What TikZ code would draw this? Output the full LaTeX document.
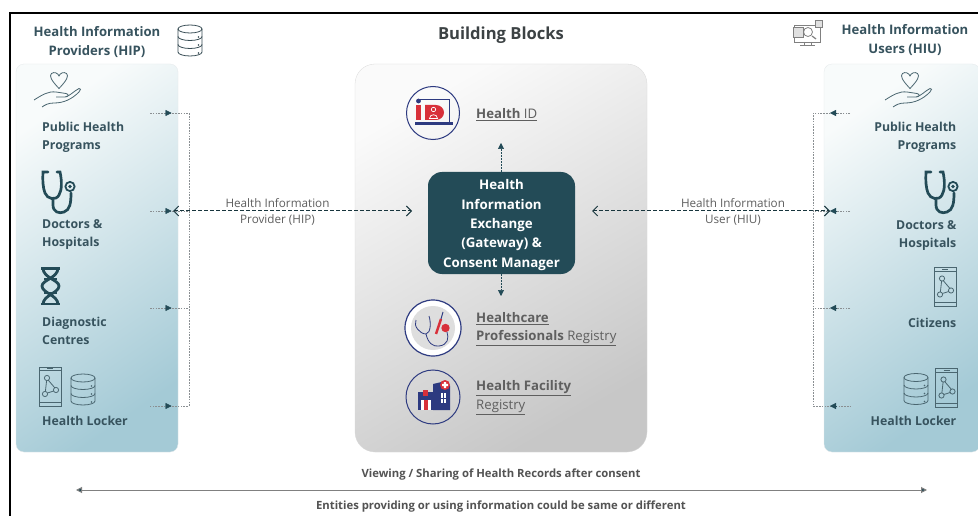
\documentclass[tikz,border=0pt]{standalone}
\usepackage{fontspec}
\setmainfont{Open Sans}
\usetikzlibrary{arrows.meta,calc}
\definecolor{teal}{HTML}{234B57}
\definecolor{lbl}{HTML}{37535E}
\definecolor{gtxt}{HTML}{404040}
\definecolor{ltxt}{HTML}{5F5F5F}
\definecolor{navy}{HTML}{2D3A80}
\definecolor{redi}{HTML}{D8303A}
\definecolor{iconline}{HTML}{4A6670}
\definecolor{dotg}{HTML}{8A8F92}
\definecolor{panelA}{HTML}{F8FBFB}
\definecolor{panelB}{HTML}{A4CAD6}
\tikzset{
 x=1pt,y=-1pt,
 entity/.style={font=\fontsize{12.3}{18}\selectfont\bfseries,text=lbl,inner sep=0pt},
 headtxt/.style={font=\fontsize{13.1}{19}\selectfont\bfseries,text=lbl,align=center,inner sep=0pt},
 blocktxt/.style={font=\fontsize{13.2}{18.5}\selectfont,text=ltxt,align=left,anchor=west,inner sep=0pt},
 linktxt/.style={font=\fontsize{11.7}{16}\selectfont,text=ltxt,align=center,inner sep=0pt},
 foot/.style={font=\fontsize{11.3}{13}\selectfont\bfseries,text=gtxt!90!white,inner sep=0pt},
 panel/.style={inner sep=0pt,rounded corners=8pt,shade,shading=axis,top color=panelA,bottom color=panelB,shading angle=35,draw=teal!12!white,line width=.3pt,minimum height=388pt},
 feeder/.style={draw=dotg,line width=.6pt,dash pattern=on 1.6pt off 1.2pt},
 feedtip/.style={-{Triangle[length=6pt,width=6pt]},teal,line width=.4pt},
 trunk/.style={draw=teal!70!black,line width=1pt,dash pattern=on 3.6pt off 2.4pt,{Straight Barb[length=5pt,width=10pt]}-{Straight Barb[length=5pt,width=10pt]}},
 vlink/.style={draw=teal,line width=.6pt,dash pattern=on 1.8pt off 1.2pt,-{Triangle[length=6pt,width=6pt]}},
 pics/dbicon/.style={code={
  \begin{scope}[shift={(-12,-15.5)},draw=#1,line width=.8pt]
   \draw (0,4) -- (0,27) arc[x radius=12,y radius=4,start angle=180,end angle=0] -- (24,4);
   \draw (12,4) ellipse[x radius=12,y radius=4];
   \draw (0,11.5) arc[x radius=12,y radius=4,start angle=180,end angle=0];
   \draw (0,19.5) arc[x radius=12,y radius=4,start angle=180,end angle=0];
   \fill[#1] (20.5,12) circle(.8) (20.5,20) circle(.8) (20.5,28) circle(.8);
  \end{scope}}},
 pics/phoneicon/.style={code={
  \begin{scope}[shift={(-11,-19.5)},draw=iconline,line width=.8pt]
   \draw (0,0) rectangle (22,39);
   \draw (0,3.5) -- (22,3.5) (0,35) -- (22,35) (8,1.8) -- (14,1.8);
   \draw (8,11) circle(2.6) (17,23) circle(2.6) (6,27) circle(2.6);
   \draw (9.3,13.2) -- (15.8,20.8) (14.7,24) -- (8.4,26) (7.6,13.6) -- (6.4,24.4);
  \end{scope}}},
 pics/handicon/.style={code={
  \begin{scope}[draw=iconline,line width=.8pt]
   \draw (25,88.5) .. controls (17,80) and (15,76) .. (17.5,73.5) .. controls (20,71.5) and (24,73) .. (25,76)
      .. controls (26,73) and (30,71.5) .. (32.5,73.5) .. controls (35,76) and (33,80) .. (25,88.5) -- cycle;
   \draw (0,100) .. controls (8,95) and (14,91) .. (22,92) -- (32,93.5) .. controls (35,94) and (35,97) .. (31,97) -- (22,97)
      (31,97) .. controls (36,96) and (40,91) .. (45,88.5) .. controls (47,88) and (47,90) .. (45,92)
      .. controls (38,99) and (30,103) .. (20,103) .. controls (14,103) and (11,105) .. (8,107);
  \end{scope}}},
 pics/scopeicon/.style={code={
  \begin{scope}[draw=teal,line width=2.7pt,line cap=round]
   \draw (4,-17) -- (-1,-17) .. controls (-1.5,-8) and (-1,-1) .. (1,4) .. controls (3,10) and (12,12) .. (15,6)
      .. controls (18,1) and (18,-8) .. (16,-17) -- (13,-17);
   \draw (9,11) -- (9,16) .. controls (9,23) and (15,25) .. (20,23) .. controls (26,21) and (27,14) .. (27,4);
   \draw[line width=1.8pt] (26,-2.5) circle(4.6);
   \fill[teal] (26,-2.5) circle(1.8);
  \end{scope}}},
}
\begin{document}
\begin{tikzpicture}[line cap=butt]
\useasboundingbox (0,0) rectangle (978,516);
\fill[white] (0,0) rectangle (978,516);
\draw[black,line width=2pt] (978,13) -- (10,13) -- (10,516);

% panels
\node[panel,minimum width=162pt] (hip) at (97,258) {};
\node[panel,minimum width=156pt] (hiu) at (902,258) {};
\node[minimum width=292pt,minimum height=388pt,inner sep=0pt,rounded corners=20pt,shade,shading=axis,top color=white!98!black,bottom color=white!78!black,shading angle=30,draw=white!85!black,line width=.3pt] (bb) at (501,258) {};
\node[minimum width=147pt,minimum height=102pt,inner sep=0pt,rounded corners=14pt,fill=teal] (hie) at (501.5,223) {};
\node[text=white,align=center,inner sep=0pt,font=\fontsize{13.3}{19.3}\selectfont\bfseries] (hietxt) at (501.5,225) {Health\\Information\\Exchange\\(Gateway) \&\\Consent Manager};

% titles
\node[font=\fontsize{16.6}{18}\selectfont\bfseries,text=gtxt!85!teal,inner sep=0pt] (title) at (501,35) {Building Blocks};
\node[headtxt] (hiphead) at (97,42) {Health Information\\Providers (HIP)};
\node[headtxt] (hiuhead) at (905,40.5) {Health Information\\Users (HIU)};

% left entity labels
\node[entity,align=left,anchor=west] (l1) at (42,137) {Public Health\\Programs};
\node[entity,align=left,anchor=west] (l2) at (42,234.5) {Doctors \&\\Hospitals};
\node[entity,align=left,anchor=west] (l3) at (42,330.5) {Diagnostic\\Centres};
\node[entity,align=left,anchor=west] (l4) at (42,420.5) {Health Locker};
% right entity labels
\node[entity,align=right,anchor=east] (r1) at (956.5,137) {Public Health\\Programs};
\node[entity,align=right,anchor=east] (r2) at (956.5,235.5) {Doctors \&\\Hospitals};
\node[entity,align=right,anchor=east] (r3) at (956.5,322.5) {Citizens};
\node[entity,align=right,anchor=east] (r4) at (956.5,420.5) {Health Locker};

% icons left
\pic at (178+12,40.5) {dbicon=iconline!75!black};
\pic at (34,0) {handicon};
\pic at (44,189) {scopeicon};
\pic at (50,386.5) {phoneicon};
\pic at (83,389.5) {dbicon=iconline};
% DNA
\begin{scope}[draw=teal,line width=2.8pt]
 \draw (41,268.5) -- (60,268.5) (41,304) -- (60,304) (44,279) -- (57,279) (44,293) -- (57,293);
 \draw (43,268) .. controls (43,278) and (59,280) .. (59,286) .. controls (59,293) and (43,295) .. (43,304.5);
 \draw (58,268) .. controls (58,278) and (42,280) .. (42,286) .. controls (42,293) and (58,295) .. (58,304.5);
\end{scope}
% icons right
\pic at (885,0) {handicon};
\pic at (927,189) {scopeicon};
\pic at (945,287) {phoneicon};
\pic at (946.5,388) {phoneicon};
\pic at (916,389) {dbicon=iconline};
% monitor icon
\begin{scope}[draw=black!50,line width=.8pt]
 \draw (794,25) rectangle (820,42);
 \draw[fill=black!12] (793,27) rectangle (803,37);
 \draw (808,32) circle(4.5);
 \draw[line width=1.2pt] (812,36) -- (816,39);
 \draw[fill=black!12] (815,20) rectangle (822,27);
 \draw (804,42) -- (804,45) (811,42) -- (811,45) (800,45.5) -- (815,45.5);
\end{scope}

% block labels
\node[blocktxt] (bid) at (476,115) {\underline{\textbf{Health} ID}};
\node[blocktxt] (bhp) at (476,329) {\underline{\textbf{Healthcare}}\\\underline{\textbf{Professionals} Registry}};
\node[blocktxt] (bhf) at (476,397.5) {\underline{\textbf{Health Facility}}\\\underline{Registry}};

% Health ID icon
\draw[navy,line width=1pt] (433,113) circle(26.5);
\draw[navy,line width=.9pt] (418,99.5) -- (449.5,99.5) -- (449.5,122);
\fill[navy] (414.5,122.5) rectangle (453,125.5);
\fill[navy] (418.5,101) circle(2.4);
\fill[redi] (416,105) rectangle (421,120);
\fill[redi] (425,105) -- (436,105) arc[x radius=8,y radius=7.5,start angle=-90,end angle=90] -- (425,120) -- cycle;
\draw[white,line width=.7pt] (433.5,109.5) circle(2.2) (429.5,118.5) .. controls (429.5,113.5) and (437.5,113.5) .. (437.5,118.5) -- cycle;

% Stethoscope/needle icon
\fill[white] (433,328) circle(28);
\draw[navy,line width=1.2pt] (433,328) circle(28);
\fill[black!13] (433,328) circle(22);
\draw[navy,line width=.8pt] (416,320) .. controls (413,326) and (420,334) .. (426,334) .. controls (431,333) and (431,322) .. (429,316)
  (426,334) .. controls (428,343) and (433,347) .. (439,346) .. controls (448,345) and (449,338) .. (447,332);
\draw[redi,line width=2.4pt] (441,319) -- (436,334);
\draw[navy,line width=1pt] (443,312) -- (441,319);
\fill[redi] (445.5,328) circle(4.2);

% Facility icon
\draw[navy,line width=1pt] (433,397) circle(27);
\fill[navy] (418,392) rectangle (433,410);
\fill[navy] (433,384) -- (446,381) -- (450,386) -- (450,410) -- (433,410) -- cycle;
\fill[redi] (423,390) rectangle (428,396);
\fill[white] (421,400) rectangle (431,410);
\fill[redi] (424,400) rectangle (428,410);
\fill[white] (441,393) rectangle (446,403);
\draw[navy,line width=.5pt] (443.5,393) -- (443.5,403) (441,398) -- (446,398);
\fill[redi] (445,385) circle(5);
\fill[white] (443.8,382) rectangle (446.2,388) (442,383.8) rectangle (448,386.2);

% connector coordinates
\coordinate (la1) at (150,113); \coordinate (lm1) at (171.5,113); \coordinate (lj1) at (189,113);
\coordinate (la2) at (150,211); \coordinate (lm2) at (171.5,211); \coordinate (lj2) at (189,211);
\coordinate (la3) at (150,308); \coordinate (lm3) at (171.5,308); \coordinate (lj3) at (189,308);
\coordinate (la4) at (150,406); \coordinate (lm4) at (171.5,406); \coordinate (lj4) at (189,406);
\coordinate (ra1) at (850,113); \coordinate (rm1) at (830,113); \coordinate (rj1) at (813,113);
\coordinate (ra2) at (850,211); \coordinate (rm2) at (830,211); \coordinate (rj2) at (813,211);
\coordinate (ra3) at (850,308); \coordinate (rm3) at (830,308); \coordinate (rj3) at (813,308);
\coordinate (ra4) at (850,406); \coordinate (rm4) at (830,406); \coordinate (rj4) at (813,406);
\coordinate (t1) at (173,211); \coordinate (t2) at (412,211);
\coordinate (t3) at (592,211); \coordinate (t4) at (830,211);
\coordinate (vup) at (501,143); \coordinate (vdn) at (501,296);
\coordinate (fl) at (76,490); \coordinate (fr) at (927,490);

% dotted feeders
\draw[feeder] (la1) -- (lj1) -- (lj4) -- (la4);
\draw[feeder] (la2) -- (lj2);
\draw[feeder] (la3) -- (lj3);
\draw[feeder] (ra1) -- (rj1) -- (rj4) -- (ra4);
\draw[feeder] (ra2) -- (rj2);
\draw[feeder] (ra3) -- (rj3);
\foreach \i in {1,2,3,4}{
 \draw[feedtip] ($(lm\i)+(-6,0)$) -- (lm\i);
 \draw[feedtip] ($(rm\i)+(6,0)$) -- (rm\i);
}
% trunk links
\draw[trunk] (t1) -- (t2);
\draw[trunk] (t3) -- (t4);
\node[linktxt] (lhip) at (277.5,212) {Health Information\\Provider (HIP)};
\node[linktxt] (lhiu) at (733,212) {Health Information\\User (HIU)};
\draw[vlink] (hie.north -| vup) -- (vup);
\draw[vlink] (hie.south -| vdn) -- (vdn);

% footer
\draw[draw=black!50,line width=1pt,{Triangle[length=6pt,width=6pt,fill=teal]}-{Triangle[length=6pt,width=6pt,fill=teal]}] (fl) -- (fr);
\node[foot] (f1) at (501,475) {Viewing / Sharing of Health Records after consent};
\node[foot] (f2) at (501,506.5) {Entities providing or using information could be same or different};
\end{tikzpicture}
\end{document}
